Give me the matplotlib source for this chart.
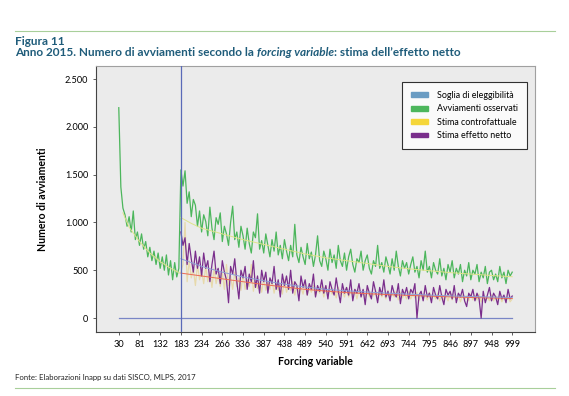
import numpy as np
import matplotlib
matplotlib.use('Agg')
import matplotlib.pyplot as plt
from matplotlib.patches import Patch
from matplotlib.ticker import FuncFormatter

plt.rcParams['font.family'] = ['Lato', 'DejaVu Sans']

# categorie dell'asse x (forcing variable), una ogni tick
tick_labels = ['30', '81', '132', '183', '234', '266', '336', '387', '438', '489',
               '540', '591', '642', '693', '744', '795', '846', '897', '948', '999']
soglia = 3          # posizione della categoria 183
passo = 0.1         # distanza fra due osservazioni, in unita' di tick

# avviamenti osservati, da 30 a 999
osservati = [2200, 1370, 1150, 1080, 960, 1060, 900, 1120, 820, 900,
             760, 880, 720, 800, 640, 740, 600, 700, 560, 680,
             520, 640, 500, 660, 450, 600, 400, 580, 430, 520,
             1550, 1380, 1540, 1200, 1320, 1060, 1240, 1180, 960, 1120,
             900, 1080, 1010, 860, 1160, 940, 820, 1050, 980, 1100,
             800, 960, 880, 760, 1000, 1170, 820, 900, 740, 960,
             860, 720, 940, 780, 680, 900, 840, 1090, 720, 810,
             680, 880, 760, 640, 820, 700, 900, 660, 760, 620,
             820, 700, 600, 760, 640, 980, 660, 580, 740, 640,
             560, 780, 620, 690, 540, 660, 860, 600, 540, 700,
             620, 500, 720, 580, 660, 520, 760, 600, 540, 680,
             500, 640, 720, 560, 480, 620, 580, 700, 500, 600,
             660, 520, 460, 600, 540, 760, 520, 580, 480, 640,
             560, 460, 620, 500, 700, 540, 440, 600, 520, 580,
             460, 560, 640, 480, 540, 420, 600, 500, 700, 480,
             540, 420, 580, 500, 460, 620, 440, 520, 400, 560,
             480, 600, 420, 520, 460, 560, 380, 500, 440, 580,
             400, 500, 460, 560, 380, 480, 420, 540, 360, 480,
             500, 400, 460, 380, 540, 420, 480, 360, 500, 440,
             480]

# stima effetto netto, da 183 a 999
effetto_netto = [900, 760, 840, 560, 780, 620, 480, 700, 520, 640,
                 440, 680, 520, 600, 380, 560, 700, 460, 520, 360,
                 600, 480, 400, 160, 540, 460, 620, 380, 200, 500,
                 420, 540, 300, 460, 380, 600, 320, 440, 260, 500,
                 380, 480, 260, 420, 360, 540, 300, 400, 220, 460,
                 340, 440, 300, 500, 260, 380, 340, 180, 440, 320,
                 400, 240, 360, 300, 460, 220, 340, 280, 400, 260,
                 340, 200, 380, 300, 240, 420, 280, 160, 360, 260,
                 320, 240, 400, 180, 300, 260, 360, 220, 300, 140,
                 340, 260, 200, 380, 280, 160, 320, 240, 400, 220,
                 280, 180, 340, 260, 220, 360, 150, 300, 240, 320,
                 200, 300, 260, 360, 0, 240, 280, 180, 340, 220,
                 260, 160, 320, 240, 200, 340, 220, 140, 300, 240,
                 280, 200, 340, 160, 260, 220, 300, 180, 120, 260,
                 220, 300, 180, 260, 200, 0, 280, 160, 240, 320,
                 180, 260, 220, 140, 280, 200, 240, 160, 300, 200,
                 230]

# stima controfattuale, da 183 a 999
controfattuale = [480, 560, 1000, 380, 600, 420, 520, 340, 560, 400,
                  500, 360, 540, 380, 480, 320, 520, 360, 460, 330,
                  480, 300, 560, 340, 440, 300, 480, 330, 420, 290,
                  460, 300, 400, 330, 560, 280, 400, 310, 380, 270,
                  420, 290, 380, 300, 400, 260, 370, 290, 350, 250,
                  400, 270, 340, 290, 380, 240, 350, 270, 320, 250,
                  360, 240, 320, 270, 340, 230, 300, 260, 330, 220,
                  330, 240, 310, 250, 300, 210, 320, 240, 290, 220,
                  320, 220, 280, 240, 300, 200, 290, 230, 270, 210,
                  300, 220, 270, 230, 290, 190, 280, 220, 260, 200,
                  290, 210, 260, 220, 280, 190, 270, 210, 250, 200,
                  280, 200, 250, 210, 270, 180, 260, 200, 240, 190,
                  270, 200, 240, 200, 260, 180, 250, 190, 240, 180,
                  260, 190, 240, 200, 250, 170, 240, 190, 230, 180,
                  250, 190, 230, 190, 250, 170, 230, 180, 220, 180,
                  240, 180, 230, 190, 240, 170, 220, 180, 220, 170,
                  200]

# curve interpolanti (lette a ogni tick)
fit_oss_sx_x = [0.2, 0.5, 1, 1.5, 2, 2.5, 2.95]
fit_oss_sx = [1100, 950, 800, 680, 590, 520, 470]
fit_x = [3, 3.5, 4, 5, 6, 7, 8, 9, 10, 11, 12, 13, 14, 15, 16, 17, 18, 19]
fit_oss_dx = [1050, 990, 940, 880, 820, 770, 720, 670, 630, 600, 570, 540, 515, 495, 475, 460, 445, 432]
fit_netto = [620, 580, 540, 480, 430, 390, 355, 325, 300, 285, 272, 260, 250, 240, 232, 225, 220, 215]
fit_contro = [470, 455, 440, 410, 380, 350, 325, 300, 282, 266, 255, 245, 237, 230, 222, 215, 210, 205]

c_soglia = '#6a9cc3'
c_oss = '#4cb65c'
c_contro = '#f5d63a'
c_netto = '#7a2e8c'

x_oss = np.arange(len(osservati)) * passo
x_dx = soglia + np.arange(len(effetto_netto)) * passo

fig = plt.figure(figsize=(5.69, 3.96), dpi=100)
ax = fig.add_axes([96/569, 1-332/396, 439/569, 266/396])
ax.set_facecolor('#ebebeb')

ax.plot([0, len(tick_labels)-1], [0, 0], color='#7a86c6', lw=0.9, zorder=2)
ax.plot(x_oss, osservati, color=c_oss, lw=0.9, zorder=3)
ax.plot(fit_oss_sx_x, fit_oss_sx, color='#dfe48a', lw=0.7, zorder=4)
ax.plot(fit_x, fit_oss_dx, color='#dfe48a', lw=0.7, zorder=4)
ax.plot(x_dx, controfattuale, color='#e6d496', lw=0.9, alpha=0.75, zorder=3)
ax.plot(x_dx, effetto_netto, color=c_netto, lw=0.9, zorder=5)
ax.plot(fit_x, fit_contro, color='#ec6a55', lw=0.7, zorder=6)
ax.plot(fit_x, fit_netto, color='#8e9ed6', lw=0.7, zorder=6)
ax.axvline(soglia, color='#5a6ab8', lw=0.9, zorder=7)

ax.set_xlim(-1.1, 20.1)
ax.set_ylim(-146, 2636)
ax.set_xticks(range(len(tick_labels)))
ax.set_xticklabels(tick_labels)
ax.set_yticks([0, 500, 1000, 1500, 2000, 2500])
ax.yaxis.set_major_formatter(FuncFormatter(lambda v, p: '{:,}'.format(int(v)).replace(',', '.')))
ax.tick_params(labelsize=6.6, length=2.5, width=0.6, color='#444444', pad=3)
for s in ['left', 'bottom']:
    ax.spines[s].set_color('#444444')
    ax.spines[s].set_linewidth(0.8)
for s in ['top', 'right']:
    ax.spines[s].set_color('#a0a0a0')
    ax.spines[s].set_linewidth(0.8)

ax.set_xlabel('Forcing variable', fontsize=7.6, fontweight='bold', labelpad=5)
ax.set_ylabel('Numero di avviamenti', fontsize=7.6, fontweight='bold', labelpad=12)

handles = [Patch(color=c_soglia), Patch(color=c_oss), Patch(color=c_contro), Patch(color=c_netto)]
labels = ['Soglia di eleggibilità', 'Avviamenti osservati', 'Stima controfattuale', 'Stima effetto netto']
leg = ax.legend(handles, labels, loc='upper right', bbox_to_anchor=(0.982, 0.94), borderaxespad=0,
                fontsize=6.4, frameon=True, fancybox=False, handlelength=2.0, handleheight=0.45,
                labelspacing=0.5, borderpad=1.0, handletextpad=1.0)
leg.get_frame().set_edgecolor('black')
leg.get_frame().set_linewidth(0.8)

# intestazione
fig.add_artist(plt.Line2D([15/569, 555/569], [1-31/396, 1-31/396], color='#a8cf9a', lw=0.8))
fig.add_artist(plt.Line2D([15/569, 555/569], [1-388/396, 1-388/396], color='#a8cf9a', lw=0.8))
tcol = '#1f5c7a'
fig.text(15/569, 1-45/396, 'Figura 11', fontsize=8.5, fontweight='bold', color=tcol)

renderer = fig.canvas.get_renderer()
x0 = 15/569
y0 = 1-56/396
parts = [('Anno 2015. Numero di avviamenti secondo la ', 'normal'),
         ('forcing variable', 'italic'),
         (': stima dell\u2019effetto netto', 'normal')]
for txt, st in parts:
    t = fig.text(x0, y0, txt, fontsize=8.5, fontweight='bold', style=st, color=tcol)
    bb = t.get_window_extent(renderer)
    x0 += bb.width / fig.bbox.width

fig.text(15/569, 1-380/396, 'Fonte: Elaborazioni Inapp su dati SISCO, MLPS, 2017', fontsize=5.6, color='#222222')

fig.savefig('out.png', dpi=100)
